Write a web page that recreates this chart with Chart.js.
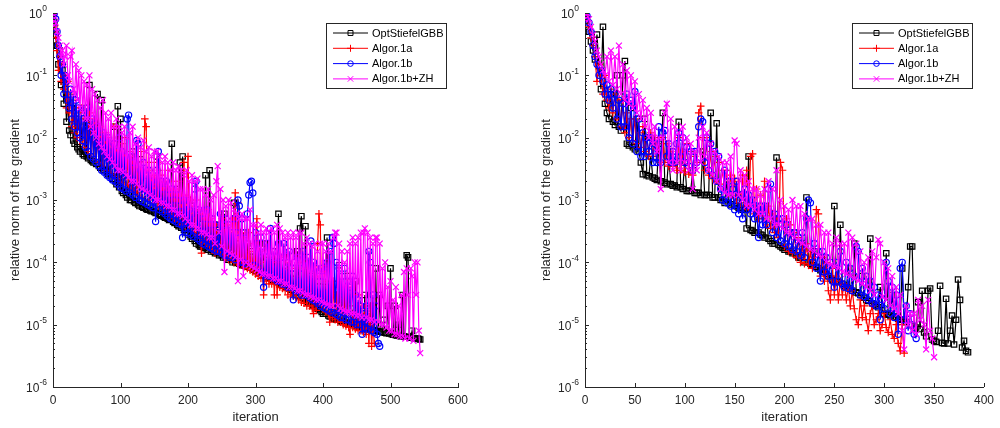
<!DOCTYPE html>
<html>
<head>
<meta charset="utf-8">
<script src="https://cdn.jsdelivr.net/npm/chart.js@4.4.1/dist/chart.umd.min.js"></script>
<style>
  html, body { margin: 0; padding: 0; background: #fff; }
  #wrap { position: relative; width: 1000px; height: 428px; }
  canvas { position: absolute; top: 0; }
  #c1 { left: 0; }
  #c2 { left: 500px; }
</style>
</head>
<body>
<div id="wrap">
  <canvas id="c1" width="500" height="428"></canvas>
  <canvas id="c2" width="500" height="428"></canvas>
</div>
<script>
// names of the four methods
const seriesNames = ['OptStiefelGBB', 'Algor.1a', 'Algor.1b', 'Algor.1b+ZH']

// left panel, values read every 2 iterations (one row = 20 iterations)
const leftStep = 2
const leftGBB = [
  1, 0.7, 0.45, 0.3, 0.15, 0.25, 0.07, 0.12, 0.035, 0.06,
  0.018, 0.04, 0.013, 0.011, 0.03, 0.009, 0.008, 0.02, 0.007, 0.0065,
  0.006, 0.015, 0.0055, 0.0052, 0.03, 0.005, 0.0047, 0.07, 0.0044, 0.0042,
  0.004, 0.012, 0.0038, 0.05, 0.0035, 0.0033, 0.04, 0.0031, 0.003, 0.008,
  0.0028, 0.0026, 0.006, 0.0024, 0.0022, 0.015, 0.002, 0.0018, 0.032, 0.0016,
  0.02, 0.0014, 0.0013, 0.004, 0.0012, 0.0011, 0.003, 0.001, 0.001, 0.006,
  0.00095, 0.0009, 0.002, 0.00085, 0.0008, 0.0045, 0.00078, 0.00075, 0.0015, 0.00072,
  0.0007, 0.003, 0.00068, 0.00066, 0.0012, 0.00064, 0.00062, 0.005, 0.0006, 0.00058,
  0.00056, 0.002, 0.00054, 0.00052, 0.0012, 0.0005, 0.00048, 0.001, 0.008, 0.00045,
  0.00043, 0.0015, 0.0004, 0.00038, 0.004, 0.00036, 0.005, 0.00033, 0.0008, 0.0003,
  0.00028, 0.001, 0.00026, 0.00024, 0.0008, 0.00022, 0.0002, 0.0006, 0.00019, 0.00018,
  0.00018, 0.0005, 0.00017, 0.0025, 0.00016, 0.00016, 0.003, 0.00015, 0.0005, 0.00015,
  0.00014, 0.0004, 0.00014, 0.00013, 0.0003, 0.00013, 0.00012, 0.0006, 0.00012, 0.00011,
  0.00011, 0.0003, 0.00011, 0.0001, 0.0009, 0.0001, 9.8e-5, 0.0002, 9.5e-5, 9.3e-5,
  9e-5, 0.0003, 8.8e-5, 8.6e-5, 0.0002, 8.5e-5, 8.3e-5, 0.00015, 8e-5, 7.6e-5,
  7.3e-5, 0.0002, 7e-5, 6.7e-5, 0.00012, 6.4e-5, 6.2e-5, 0.0002, 6e-5, 5.8e-5,
  5.6e-5, 0.0001, 5.4e-5, 5.2e-5, 0.00015, 5e-5, 4.8e-5, 0.0006, 4.6e-5, 4.4e-5,
  4.3e-5, 0.00012, 4.1e-5, 4e-5, 0.0001, 3.8e-5, 3.6e-5, 8e-5, 3.4e-5, 3.2e-5,
  3e-5, 0.00015, 2.9e-5, 0.00035, 0.00055, 2.7e-5, 2.6e-5, 0.00038, 2.4e-5, 2.3e-5,
  2.2e-5, 6e-5, 2.1e-5, 2e-5, 8e-5, 1.9e-5, 1.8e-5, 5e-5, 1.7e-5, 1.6e-5,
  1.5e-5, 4e-5, 1.5e-5, 0.00025, 1.4e-5, 1.35e-5, 4e-5, 1.3e-5, 1.25e-5, 3e-5,
  1.2e-5, 1.2e-5, 9e-5, 1.15e-5, 1.1e-5, 2.5e-5, 1.1e-5, 1.05e-5, 6e-5, 1.05e-5,
  1e-5, 1e-5, 1.5e-5, 9.8e-6, 5e-5, 9.5e-6, 9.3e-6, 2e-5, 9e-6, 9e-6,
  8.8e-6, 3e-5, 8.7e-6, 8.5e-6, 1.5e-5, 8.4e-6, 8.3e-6, 2e-5, 8.2e-6, 8e-5,
  8e-6, 7.8e-6, 3e-5, 7.7e-6, 7.5e-6, 1.2e-5, 7.4e-6, 7.3e-6, 2e-5, 7.2e-6,
  8e-5, 7e-6, 6.9e-6, 2e-5, 6.8e-6, 6.7e-6, 1e-5, 6.6e-6, 6.5e-6, 3e-5,
  6.5e-6, 6.4e-6, 1.3e-4, 1.2e-4, 6.3e-6, 6.2e-6, 8e-6, 6.1e-6, 6e-6, 6e-6,
  6e-6, 5.9e-6, 5.8e-6]
const leftAlg1a = [
  0.9, 0.6, 0.4, 0.25, 0.12, 0.2, 0.08, 0.15, 0.06, 0.1,
  0.03, 0.08, 0.025, 0.05, 0.015, 0.04, 0.012, 0.03, 0.01, 0.025,
  0.009, 0.03, 0.008, 0.02, 0.007, 0.015, 0.006, 0.025, 0.0055, 0.012,
  0.005, 0.02, 0.0045, 0.01, 0.004, 0.015, 0.0038, 0.008, 0.0035, 0.012,
  0.003, 0.01, 0.0028, 0.008, 0.0026, 0.015, 0.0024, 0.006, 0.0022, 0.009,
  0.002, 0.008, 0.0019, 0.01, 0.0018, 0.005, 0.0017, 0.006, 0.0015, 0.004,
  0.0014, 0.005, 0.0013, 0.004, 0.0012, 0.006, 0.0011, 0.003, 0.02, 0.015,
  0.001, 0.004, 0.001, 0.003, 0.0009, 0.0025, 0.0009, 0.004, 0.0008, 0.003,
  0.0008, 0.0025, 0.0007, 0.002, 0.0007, 0.003, 0.0006, 0.0015, 0.0006, 0.002,
  0.0005, 0.0015, 0.0005, 0.002, 0.00045, 0.0012, 0.0004, 0.004, 0.00038, 0.0012,
  0.005, 0.0004, 0.001, 0.00035, 0.0008, 0.0003, 0.001, 0.00028, 0.0007, 0.00025,
  0.00014, 0.0006, 0.00022, 0.0005, 0.0002, 0.0007, 0.00018, 0.0005, 0.00016, 0.0004,
  0.00014, 0.0004, 0.00015, 0.0003, 0.00014, 0.0005, 0.00013, 0.0003, 0.00012, 0.0004,
  0.00011, 0.0003, 0.00011, 0.0005, 0.0001, 0.0013, 0.0001, 0.0009, 9.5e-5, 0.0003,
  9e-5, 0.00025, 8.5e-5, 0.0002, 8e-5, 0.0003, 7.5e-5, 0.00015, 7e-5, 0.0002,
  6.5e-5, 0.0005, 6e-5, 0.00015, 5.5e-5, 0.0001, 3e-5, 0.0001, 5e-5, 0.00012,
  4.5e-5, 0.0001, 4.5e-5, 8e-5, 3e-5, 0.0001, 3e-5, 8e-5, 4e-5, 0.00012,
  3.8e-5, 8e-5, 3.5e-5, 7e-5, 3e-5, 0.0001, 2.8e-5, 6e-5, 3e-5, 8e-5,
  2.7e-5, 6e-5, 2.5e-5, 0.0001, 2.3e-5, 5e-5, 2.2e-5, 8e-5, 2e-5, 4e-5,
  2e-5, 5e-5, 1.8e-5, 1.5e-5, 6e-5, 1.7e-5, 0.0002, 0.0006, 0.0004, 2e-5,
  1.8e-5, 8e-5, 1.6e-5, 5e-5, 1.5e-5, 1.1e-5, 4e-5, 1.3e-5, 5e-5, 1.2e-5,
  3e-5, 1.1e-5, 4e-5, 1.1e-5, 2.5e-5, 1e-5, 3e-5, 9.5e-6, 4e-5, 9e-6,
  7e-6, 2e-5, 9e-6, 3e-5, 8.5e-6, 2e-5, 8e-6, 3e-5, 8e-6, 1.5e-5,
  7.5e-6, 2e-5, 7e-6, 1.5e-5, 5e-6, 2e-5, 4.5e-6, 1e-5, 5e-6]
const leftAlg1b = [
  0.7, 1.0, 0.8, 0.5, 0.3, 0.2, 0.1, 0.15, 0.05, 0.1,
  0.08, 0.04, 0.03, 0.06, 0.02, 0.05, 0.015, 0.04, 0.012, 0.03,
  0.01, 0.025, 0.009, 0.02, 0.007, 0.03, 0.006, 0.015, 0.005, 0.02,
  0.0045, 0.012, 0.004, 0.015, 0.0035, 0.01, 0.003, 0.012, 0.0028, 0.008,
  0.0025, 0.01, 0.0023, 0.007, 0.0021, 0.008, 0.002, 0.006, 0.0018, 0.01,
  0.0016, 0.006, 0.0015, 0.005, 0.0014, 0.02, 0.023, 0.0013, 0.005, 0.0012,
  0.004, 0.0011, 0.009, 0.008, 0.001, 0.003, 0.00095, 0.004, 0.0009, 0.0025,
  0.00085, 0.003, 0.0008, 0.002, 0.00075, 0.0015, 0.00045, 0.003, 0.006, 0.0007,
  0.002, 0.00065, 0.0015, 0.0006, 0.002, 0.00055, 0.0012, 0.0005, 0.0015, 0.00048,
  0.001, 0.00045, 0.0012, 0.00042, 0.0008, 0.0004, 0.00025, 0.001, 0.00035, 0.0008,
  0.0003, 0.0007, 0.00028, 0.0006, 0.00026, 0.0015, 0.002, 0.00024, 0.0007, 0.00022,
  0.0006, 0.0002, 0.0005, 0.00019, 0.0007, 0.00018, 0.0004, 0.00017, 0.0005, 0.00016,
  0.0004, 0.00015, 0.0003, 0.00015, 0.0006, 0.00014, 0.0004, 0.00013, 0.0005, 0.00013,
  0.0004, 0.00012, 0.0003, 0.00012, 0.0005, 0.00011, 0.0003, 0.001, 0.0008, 0.0001,
  0.0005, 0.0001, 0.0003, 9.5e-5, 0.0006, 0.0012, 0.0019, 0.002, 0.0013, 9e-5,
  0.0003, 8.5e-5, 0.0002, 8e-5, 0.00025, 7e-5, 4e-5, 0.00015, 6.5e-5, 0.0002,
  6e-5, 0.00035, 6e-5, 0.00015, 5.5e-5, 0.00012, 5e-5, 0.0002, 5e-5, 0.00012,
  4.5e-5, 0.0002, 4.5e-5, 0.0001, 4e-5, 0.00015, 4e-5, 8e-5, 2.5e-5, 0.0001,
  3.5e-5, 0.00012, 3.5e-5, 8e-5, 3e-5, 0.00015, 3e-5, 0.0001, 3e-5, 0.00012,
  2.7e-5, 0.00022, 2.5e-5, 0.0001, 2.4e-5, 8e-5, 2.2e-5, 6e-5, 2e-5, 8e-5,
  1.9e-5, 6e-5, 1.8e-5, 0.0001, 1.7e-5, 0.00015, 1.6e-5, 0.00025, 0.0002, 1.5e-5,
  0.0001, 1.4e-5, 8e-5, 1.3e-5, 6e-5, 1.3e-5, 8e-5, 1.2e-5, 5e-5, 1.2e-5,
  4e-5, 1.1e-5, 6e-5, 1.1e-5, 3e-5, 1e-5, 2.5e-5, 1e-5, 2e-5, 7e-6,
  1.5e-5, 9e-6, 2e-5, 8.5e-6, 0.00015, 0.0001, 8e-6, 3e-5, 7.5e-6, 2e-5,
  7e-6, 5e-6, 4.5e-6]
const leftAlg1bZH = [
  0.6, 0.9, 0.7, 0.5, 0.4, 0.3, 0.2, 0.25, 0.15, 0.2,
  0.3, 0.1, 0.08, 0.2, 0.25, 0.06, 0.05, 0.15, 0.04, 0.12,
  0.03, 0.1, 0.025, 0.08, 0.02, 0.07, 0.02, 0.1, 0.015, 0.06,
  0.012, 0.05, 0.01, 0.04, 0.008, 0.03, 0.007, 0.04, 0.006, 0.025,
  0.005, 0.02, 0.0045, 0.025, 0.004, 0.015, 0.0035, 0.02, 0.003, 0.015,
  0.003, 0.012, 0.0028, 0.015, 0.0025, 0.01, 0.0023, 0.012, 0.002, 0.015,
  0.002, 0.008, 0.0018, 0.01, 0.0016, 0.007, 0.0015, 0.009, 0.0014, 0.006,
  0.0013, 0.007, 0.0012, 0.005, 0.0011, 0.006, 0.001, 0.006, 0.001, 0.005,
  0.0009, 0.004, 0.0009, 0.005, 0.0008, 0.004, 0.0008, 0.003, 0.0007, 0.004,
  0.0007, 0.003, 0.0006, 0.0035, 0.0006, 0.003, 0.00055, 0.0025, 0.0005, 0.003,
  0.00045, 0.002, 0.0004, 0.0025, 0.0004, 0.002, 0.00035, 0.0022, 0.00035, 0.0015,
  0.0003, 0.0015, 0.0003, 0.0012, 0.00028, 0.0015, 0.00025, 0.001, 0.00025, 0.0012,
  0.0002, 0.002, 0.0035, 0.0003, 0.0015, 0.00018, 0.001, 7e-5, 0.0008, 0.00015,
  0.001, 0.00014, 0.0009, 0.00013, 0.0007, 0.00012, 0.0006, 5e-5, 0.0005, 0.00011,
  0.0006, 6e-5, 0.0005, 0.0001, 0.0005, 9e-5, 0.0007, 8.5e-5, 0.0004, 8e-5,
  0.0004, 7.5e-5, 0.0003, 7e-5, 0.0004, 6.5e-5, 0.0003, 6.5e-5, 0.00035, 6e-5,
  0.0003, 6e-5, 0.00035, 5.5e-5, 0.0003, 5.5e-5, 0.0004, 5e-5, 0.00035, 5e-5,
  0.0003, 4.5e-5, 0.00025, 4.5e-5, 0.0003, 4e-5, 0.00025, 4e-5, 0.0003, 3.8e-5,
  0.00025, 3.5e-5, 0.0003, 3.5e-5, 0.0003, 3.2e-5, 0.0002, 3e-5, 0.00025, 3e-5,
  0.0002, 2.8e-5, 0.00018, 2.7e-5, 0.0002, 2.5e-5, 0.00015, 2.5e-5, 0.0002, 2.3e-5,
  0.0002, 2.2e-5, 0.00015, 2.1e-5, 0.0002, 2e-5, 0.00015, 2e-5, 0.00025, 0.0003,
  0.0003, 2e-5, 0.0002, 1.8e-5, 0.00015, 1.7e-5, 0.0001, 1.6e-5, 0.00015, 1.6e-5,
  0.0002, 1.5e-5, 0.00025, 1.5e-5, 0.0002, 1.4e-5, 0.00025, 1.4e-5, 0.0003, 1.3e-5,
  0.0003, 0.00035, 1.3e-5, 0.0003, 1.2e-5, 0.00025, 1.2e-5, 0.0002, 1.1e-5, 0.00025,
  0.00025, 1.1e-5, 0.0002, 1e-5, 8e-5, 1e-5, 0.0001, 9e-6, 4e-5, 8e-6,
  5e-5, 8e-6, 2.5e-5, 7e-6, 4e-5, 7e-6, 2e-5, 6.5e-6, 3e-5, 6.5e-6,
  7e-5, 6e-6, 8e-5, 3e-5, 6e-6, 8e-5, 6e-5, 5.5e-6, 0.0001, 3e-5,
  0.0001, 8e-6, 3.5e-6]

// right panel, values read every 2 iterations (one row = 20 iterations)
const rightStep = 2
const rightGBB = [
  1.0, 0.8, 0.5, 0.35, 0.25, 0.18, 0.45, 0.14, 0.06, 0.6,
  0.035, 0.025, 0.02, 0.05, 0.018, 0.016, 0.1, 0.015, 0.013, 0.1,
  0.17, 0.008, 0.0075, 0.03, 0.007, 0.0065, 0.02, 0.006, 0.004, 0.0026,
  0.02, 0.0025, 0.0024, 0.005, 0.0023, 0.0022, 0.0021, 0.008, 0.002, 0.025,
  0.0019, 0.0018, 0.005, 0.0018, 0.0017, 0.0017, 0.0016, 0.018, 0.0016, 0.0015,
  0.004, 0.0014, 0.0014, 0.0014, 0.003, 0.0013, 0.0013, 0.0013, 0.0012, 0.006,
  0.0012, 0.0012, 0.0012, 0.025, 0.0011, 0.0011, 0.017, 0.0011, 0.001, 0.001,
  0.0009, 0.002, 0.0009, 0.00085, 0.0015, 0.0008, 0.0008, 0.00075, 0.0012, 0.0007,
  0.0007, 0.00035, 0.005, 0.00033, 0.00032, 0.0003, 0.0006, 0.0003, 0.00028, 0.00027,
  0.00025, 0.0005, 0.00024, 0.00022, 0.0002, 0.0002, 0.0048, 0.00019, 0.00018, 0.00017,
  0.00016, 0.0004, 0.00015, 0.00015, 0.00014, 0.0003, 0.00013, 0.00012, 0.00012, 0.0002,
  0.0001, 0.0011, 0.0001, 9.5e-5, 9e-5, 0.00015, 8.5e-5, 8e-5, 7.5e-5, 7e-5,
  0.00012, 6.5e-5, 6e-5, 5.5e-5, 5.2e-5, 0.0008, 5e-5, 4.8e-5, 0.0004, 4.5e-5,
  4.2e-5, 4e-5, 8e-5, 3.8e-5, 3.5e-5, 0.0002, 3.3e-5, 3.2e-5, 3e-5, 6e-5,
  2.7e-5, 2.5e-5, 2.4e-5, 0.00024, 2.2e-5, 2.1e-5, 2e-5, 1.9e-5, 4e-5, 1.7e-5,
  1.5e-5, 0.00014, 1.45e-5, 1.4e-5, 3e-5, 1.35e-5, 1.3e-5, 1.25e-5, 1.2e-5, 8e-5,
  1.1e-5, 1.1e-5, 4e-5, 0.00018, 0.00018, 9.5e-6, 9e-6, 2.3e-5, 8.5e-6, 3.5e-5,
  7.5e-6, 6.5e-6, 3.5e-5, 3.8e-5, 5.8e-6, 5.5e-6, 5.3e-6, 8e-6, 4.2e-5, 5.1e-6,
  5e-6, 2.6e-5, 5e-6, 8e-6, 1.4e-5, 4.8e-6, 1.2e-5, 5.3e-5, 2.5e-5, 4.3e-6,
  5.5e-6, 3.8e-6, 3.6e-6]
const rightAlg1a = [
  0.9, 0.85, 0.6, 0.4, 0.3, 0.2, 0.08, 0.15, 0.1, 0.05,
  0.1, 0.04, 0.03, 0.06, 0.025, 0.05, 0.02, 0.04, 0.015, 0.04,
  0.012, 0.025, 0.01, 0.02, 0.009, 0.02, 0.008, 0.012, 0.007, 0.015,
  0.006, 0.01, 0.005, 0.012, 0.005, 0.01, 0.0045, 0.008, 0.004, 0.01,
  0.004, 0.008, 0.0035, 0.006, 0.0035, 0.004, 0.003, 0.01, 0.003, 0.006,
  0.0028, 0.008, 0.0026, 0.006, 0.0025, 0.005, 0.004, 0.025, 0.032, 0.01,
  0.003, 0.01, 0.0025, 0.006, 0.0022, 0.005, 0.002, 0.004, 0.0018, 0.003,
  0.0015, 0.003, 0.0013, 0.0025, 0.0012, 0.0022, 0.001, 0.002, 0.0009, 0.0025,
  0.0008, 0.003, 0.0007, 0.005, 0.0055, 0.0006, 0.0015, 0.0005, 0.0012, 0.0005,
  0.002, 0.0004, 0.0008, 0.00035, 0.0006, 0.0003, 0.0005, 0.00025, 0.004, 0.003,
  0.00018, 0.0005, 0.00015, 0.0004, 0.00014, 0.0003, 0.00012, 0.00025, 0.0001, 0.0002,
  9.5e-5, 0.0002, 9e-5, 0.00015, 8e-5, 0.00012, 0.0007, 0.0006, 6e-5, 0.00012,
  5e-5, 0.0001, 3.5e-5, 2.5e-5, 8e-5, 3e-5, 6e-5, 2.5e-5, 5e-5, 3e-5,
  4.5e-5, 2.5e-5, 4e-5, 2e-5, 3.5e-5, 1.8e-5, 1.2e-5, 1e-5, 2.5e-5, 1.3e-5,
  2e-5, 1.2e-5, 8e-6, 1.5e-5, 2e-5, 1e-5, 1.2e-5, 1.5e-5, 8e-6, 1e-5,
  1.5e-5, 9e-6, 7.5e-6, 1.2e-5, 7e-6, 6e-6, 1e-5, 5e-6, 3.8e-6, 1e-5,
  3.5e-6]
const rightAlg1b = [
  1.0, 0.9, 0.7, 0.5, 0.3, 0.2, 0.15, 0.1, 0.12, 0.08,
  0.05, 0.07, 0.04, 0.06, 0.03, 0.05, 0.02, 0.04, 0.015, 0.035,
  0.015, 0.05, 0.01, 0.04, 0.008, 0.055, 0.006, 0.02, 0.005, 0.012,
  0.005, 0.01, 0.006, 0.01, 0.004, 0.008, 0.004, 0.015, 0.004, 0.012,
  0.013, 0.005, 0.008, 0.004, 0.006, 0.004, 0.008, 0.012, 0.005, 0.01,
  0.004, 0.007, 0.0035, 0.006, 0.003, 0.006, 0.004, 0.015, 0.02, 0.018,
  0.004, 0.01, 0.003, 0.008, 0.0025, 0.006, 0.002, 0.005, 0.0015, 0.001,
  0.003, 0.0009, 0.002, 0.0008, 0.0015, 0.0007, 0.002, 0.0006, 0.0012, 0.0005,
  0.0015, 0.0007, 0.0012, 0.0006, 0.001, 0.0005, 0.0008, 0.00025, 0.0008, 0.0004,
  0.0008, 0.0004, 0.0015, 0.0018, 0.0003, 0.0006, 0.00025, 0.0005, 0.00022, 0.0005,
  0.0002, 0.0004, 0.00018, 0.0003, 0.00016, 0.0003, 0.00015, 0.00025, 0.00013, 0.0003,
  0.00012, 0.0005, 0.001, 0.0009, 0.0001, 0.0002, 8e-5, 0.00015, 5e-5, 0.00015,
  7e-5, 0.00012, 6e-5, 0.0001, 5e-5, 4e-5, 0.0001, 5e-5, 0.00015, 4.5e-5,
  4e-5, 0.0001, 3.8e-5, 8e-5, 3.5e-5, 6e-5, 0.00018, 0.00015, 3e-5, 8e-5,
  2.8e-5, 6e-5, 2.5e-5, 5e-5, 2.2e-5, 4e-5, 2e-5, 3e-5, 1.2e-5, 2.5e-5,
  1.8e-5, 0.0001, 5e-5, 1.5e-5, 4e-5, 1.3e-5, 3e-5, 7e-6, 8e-5, 0.0001,
  1.2e-5, 2e-5, 8e-6, 1.5e-5, 1e-5, 7e-6, 6e-6]
const rightAlg1bZH = [
  0.8, 1.0, 0.8, 0.6, 0.45, 0.35, 0.25, 0.2, 0.15, 0.12,
  0.1, 0.2, 0.08, 0.25, 0.07, 0.2, 0.06, 0.3, 0.05, 0.15,
  0.04, 0.12, 0.035, 0.1, 0.03, 0.08, 0.025, 0.05, 0.02, 0.04,
  0.015, 0.03, 0.01, 0.025, 0.008, 0.015, 0.006, 0.01, 0.0015, 0.01,
  0.025, 0.035, 0.004, 0.02, 0.003, 0.015, 0.004, 0.012, 0.003, 0.015,
  0.004, 0.01, 0.003, 0.008, 0.0015, 0.006, 0.003, 0.01, 0.004, 0.015,
  0.005, 0.012, 0.003, 0.008, 0.0025, 0.006, 0.002, 0.005, 0.0015, 0.004,
  0.0013, 0.004, 0.0012, 0.005, 0.0012, 0.009, 0.008, 0.0012, 0.003, 0.001,
  0.0025, 0.0008, 0.002, 0.0008, 0.0015, 0.0007, 0.0015, 0.0006, 0.0012, 0.0006,
  0.0015, 0.0005, 0.002, 0.0005, 0.0015, 0.0004, 0.003, 0.0004, 0.001, 0.00035,
  0.0008, 0.0003, 0.0007, 0.00028, 0.001, 0.00025, 0.0008, 0.00022, 0.0008, 0.0002,
  0.0006, 0.00018, 0.0005, 0.00016, 0.0005, 0.00015, 0.0004, 0.00013, 0.0004, 0.00012,
  0.0003, 0.0001, 0.0003, 9e-5, 0.0002, 8.5e-5, 0.00025, 8e-5, 0.0002, 7e-5,
  0.0002, 6.5e-5, 0.0003, 6e-5, 0.00025, 5.5e-5, 0.0002, 5e-5, 0.00015, 4.5e-5,
  0.0001, 4e-5, 0.00012, 3.5e-5, 0.00015, 3e-5, 0.00012, 0.00023, 0.0002, 2.8e-5,
  0.0001, 2.5e-5, 8e-5, 2e-5, 6e-5, 1.8e-5, 4e-5, 1.5e-5, 3e-5, 8e-6,
  4e-6, 2e-5, 1e-5, 1.5e-5, 8e-6, 1.5e-5, 7e-6, 2.5e-5, 1.2e-5, 2e-5,
  1e-5, 4e-6, 2.5e-5, 8e-6, 6e-6, 3e-6]

// axis ticks
const leftXTicks = [0, 100, 200, 300, 400, 500, 600]
const rightXTicks = [0, 50, 100, 150, 200, 250, 300, 350, 400]
const yTickExps = [-6, -5, -4, -3, -2, -1, 0]

const axisColor = '#262626'
const fontFam = '"Liberation Sans", Arial, Helvetica, sans-serif'
const styles = [
    { color: '#000000', marker: 'rect', radius: 3.8, order: 4 },
    { color: '#ff0000', marker: 'cross', radius: 3.8, order: 3 },
    { color: '#0000ff', marker: 'circle', radius: 3.1, order: 2 },
    { color: '#ff00ff', marker: 'crossRot', radius: 4.2, order: 1 }
]

function toPoints(values, step) {
    return values.map((v, i) => ({ x: i * step, y: v }))
}

// little drawing helpers for the legend markers
function drawMarker(ctx, kind, x, y, r) {
    ctx.beginPath()
    if (kind === 'rect') {
        let s = r * Math.SQRT1_2
        ctx.rect(x - s, y - s, 2 * s, 2 * s)
    } else if (kind === 'circle') {
        ctx.arc(x, y, r, 0, Math.PI * 2)
    } else if (kind === 'cross') {
        ctx.moveTo(x - r, y); ctx.lineTo(x + r, y)
        ctx.moveTo(x, y - r); ctx.lineTo(x, y + r)
    } else {
        let s = r * Math.SQRT1_2
        ctx.moveTo(x - s, y - s); ctx.lineTo(x + s, y + s)
        ctx.moveTo(x - s, y + s); ctx.lineTo(x + s, y - s)
    }
    ctx.stroke()
}

const matlabAxes = {
    id: 'matlabAxes',
    afterDraw(chart) {
        const ctx = chart.ctx
        const xs = chart.scales.x, ys = chart.scales.y
        const area = chart.chartArea
        ctx.save()
        ctx.strokeStyle = axisColor
        ctx.lineWidth = 1
        // inward ticks on y (major + minor)
        ctx.beginPath()
        yTickExps.forEach(e => {
            let py = Math.round(ys.getPixelForValue(Math.pow(10, e))) + 0.5
            ctx.moveTo(area.left, py); ctx.lineTo(area.left + 4, py)
            if (e < 0) {
                for (let m = 2; m <= 9; m++) {
                    let my = Math.round(ys.getPixelForValue(m * Math.pow(10, e))) + 0.5
                    ctx.moveTo(area.left, my); ctx.lineTo(area.left + 2, my)
                }
            }
        })
        // inward ticks on x
        chart.options.scales.x.tickList.forEach(t => {
            let px = Math.round(xs.getPixelForValue(t)) + 0.5
            ctx.moveTo(px, area.bottom); ctx.lineTo(px, area.bottom - 4)
        })
        ctx.stroke()

        // y tick labels as 10 with a raised exponent
        ctx.fillStyle = axisColor
        ctx.textBaseline = 'middle'
        yTickExps.forEach(e => {
            let py = ys.getPixelForValue(Math.pow(10, e))
            let expTxt = e === 0 ? '0' : '-' + Math.abs(e)
            ctx.font = '8.5px ' + fontFam
            let ew = ctx.measureText(expTxt).width
            let ex = area.left - 6 - ew
            ctx.textAlign = 'left'
            ctx.fillText(expTxt, ex, py - 4)
            ctx.font = '12px ' + fontFam
            ctx.textAlign = 'right'
            ctx.fillText('10', ex, py + 2)
        })

        // legend box
        const bx = area.right - 132, by = area.top + 10, bw = 120, bh = 65
        ctx.fillStyle = '#ffffff'
        ctx.fillRect(bx, by, bw, bh)
        ctx.strokeStyle = axisColor
        ctx.lineWidth = 1
        ctx.strokeRect(bx + 0.5, by + 0.5, bw, bh)
        chart.data.datasets.forEach((ds, i) => {
            let ry = by + 10 + i * 15.3
            let st = styles[i]
            ctx.strokeStyle = st.color
            ctx.lineWidth = 1
            ctx.beginPath()
            ctx.moveTo(bx + 7, ry); ctx.lineTo(bx + 42, ry)
            ctx.stroke()
            drawMarker(ctx, st.marker, bx + 24.5, ry, st.radius - 0.3)
            ctx.fillStyle = '#000000'
            ctx.font = '11px ' + fontFam
            ctx.textAlign = 'left'
            ctx.textBaseline = 'middle'
            ctx.fillText(ds.label, bx + 46, ry + 0.5)
        })
        ctx.restore()
    }
}

function makeChart(id, lists, step, xMax, xTicks, padLeft, yWidth, padRight) {
    let datasets = lists.map((vals, i) => ({
        label: seriesNames[i],
        data: toPoints(vals, step),
        borderColor: styles[i].color,
        backgroundColor: 'rgba(0,0,0,0)',
        borderWidth: 1.2,
        pointStyle: styles[i].marker,
        pointRadius: styles[i].radius,
        pointBorderWidth: 1.2,
        pointBorderColor: styles[i].color,
        pointBackgroundColor: 'rgba(0,0,0,0)',
        tension: 0,
        order: styles[i].order
    }))
    return new Chart(document.getElementById(id), {
        type: 'line',
        data: { datasets: datasets },
        options: {
            responsive: false,
            animation: false,
            layout: { padding: { left: padLeft, right: padRight, top: 13, bottom: 0 } },
            plugins: { legend: { display: false }, tooltip: { enabled: false } },
            scales: {
                x: {
                    type: 'linear', min: 0, max: xMax,
                    tickList: xTicks,
                    afterBuildTicks: s => { s.ticks = xTicks.map(v => ({ value: v })) },
                    afterFit: s => { s.height = 41 },
                    grid: { display: false, drawTicks: false },
                    border: { display: true, color: axisColor, width: 1 },
                    ticks: { color: axisColor, font: { size: 12, family: fontFam }, padding: 6, maxRotation: 0 },
                    title: { display: true, text: 'iteration', color: axisColor,
                        font: { size: 13, family: fontFam }, padding: { top: 0, bottom: 3 } }
                },
                y: {
                    type: 'logarithmic', min: 1e-6, max: 1,
                    afterFit: s => { s.width = yWidth },
                    grid: { display: false, drawTicks: false },
                    border: { display: true, color: axisColor, width: 1 },
                    ticks: { display: false },
                    title: { display: true, text: 'relative norm of the gradient', color: axisColor,
                        font: { size: 13, family: fontFam }, padding: { top: 8, bottom: 0 } }
                }
            }
        },
        plugins: [matlabAxes]
    })
}

makeChart('c1', [leftGBB, leftAlg1a, leftAlg1b, leftAlg1bZH], leftStep, 600, leftXTicks, 0, 53, 42)
makeChart('c2', [rightGBB, rightAlg1a, rightAlg1b, rightAlg1bZH], rightStep, 400, rightXTicks, 31, 54, 11)
</script>
</body>
</html>
